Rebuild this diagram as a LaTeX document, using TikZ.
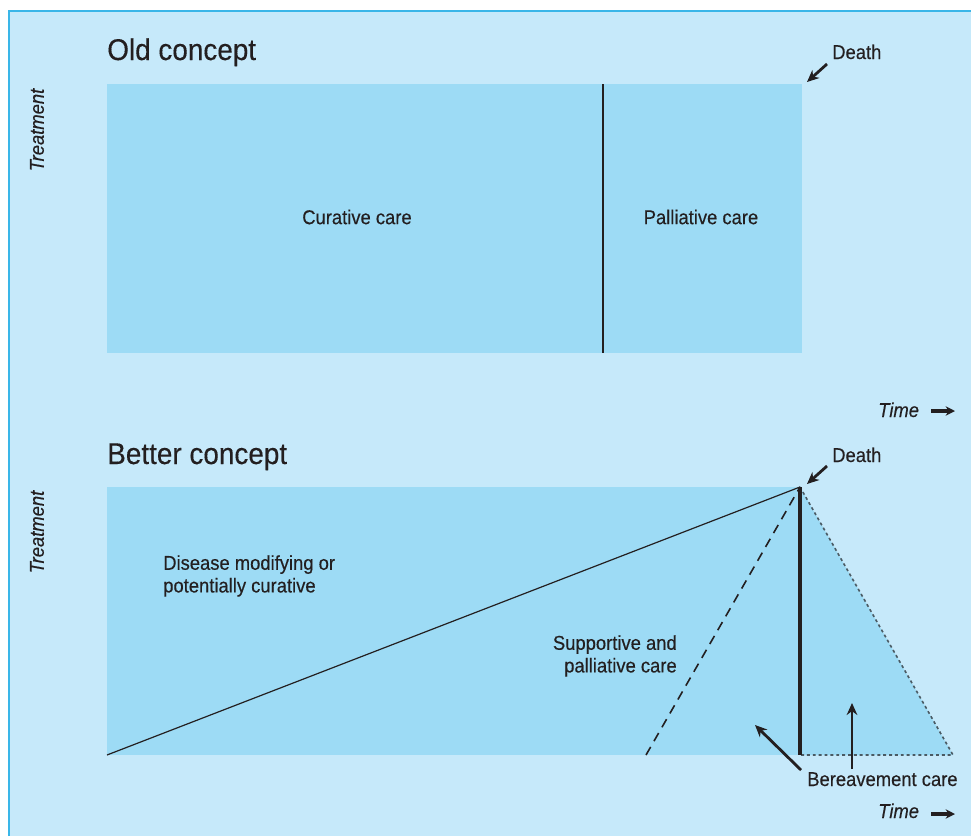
\documentclass[tikz,border=0pt]{standalone}
\usepackage{fontspec}
\setmainfont{Liberation Sans}
\newfontfamily\cond[FakeStretch=0.92,FakeBold=0.3]{Liberation Sans}
\newfontfamily\condt[FakeStretch=0.93,FakeBold=0.3]{Liberation Sans}
\usetikzlibrary{arrows.meta}
\definecolor{bgblue}{HTML}{C6E9FA}
\definecolor{boxblue}{HTML}{9DDBF5}
\definecolor{frameblue}{HTML}{3AB6E8}
\definecolor{ink}{HTML}{231F20}
\definecolor{dotgray}{HTML}{4A5A63}
\begin{document}
\begin{tikzpicture}[x=0.75pt,y=-0.75pt,
  lbl/.style={font=\cond\fontsize{15}{17}\selectfont, text=ink, inner sep=0pt},
  ttl/.style={font=\condt\fontsize{22.5}{24}\selectfont, text=ink, inner sep=0pt, anchor=base west},
  axl/.style={font=\cond\itshape\fontsize{15}{15}\selectfont, text=ink, inner sep=0pt},
  ptr/.style={draw=ink, line width=2.1pt, -{Stealth[length=9pt,width=8pt]}},
  timearrow/.style={draw=ink, line width=2.6pt, -{Stealth[length=7pt,width=7pt]}},
  boxfill/.style={fill=boxblue}
]
\useasboundingbox (0,0) rectangle (971,836);
\fill[white] (0,0) rectangle (971,836);
\fill[bgblue] (9,11) rectangle (971,836);
\draw[frameblue, line width=1.5pt] (9,836) -- (9,11) -- (971,11);

% ---------- Old concept ----------
\node[ttl] (oldt) at (107,60) {Old concept};
\fill[boxfill] (107,84) rectangle (802,353);
\coordinate (divtop) at (603,84);
\coordinate (divbot) at (603,353);
\draw[ink, line width=1.1pt] (divtop) -- (divbot);
\node[lbl] (cur) at (357,217) {Curative care};
\node[lbl] (pal) at (701,217) {Palliative care};
\node[lbl, anchor=base west] (d1) at (832,59) {Death};
\coordinate (d1tail) at (827,64);
\coordinate (d1head) at (807,82);
\draw[ptr] (d1tail) -- (d1head);
\node[axl, rotate=90] (tr1) at (37,130) {Treatment};
\node[axl, anchor=base west] (time1) at (878,417) {Time};
\coordinate (ta1) at (931,411);
\coordinate (tb1) at (955,411);
\draw[timearrow] (ta1) -- (tb1);

% ---------- Better concept ----------
\node[ttl] (bett) at (107,464) {Better concept};
\fill[boxfill] (107,487) rectangle (800,755);
\coordinate (apex) at (800,487);
\coordinate (vbot) at (800,755);
\coordinate (origin) at (107,755);
\coordinate (dashbot) at (646,755);
\coordinate (tri) at (953,755);
\fill[boxfill] (apex) -- (tri) -- (vbot) -- cycle;
\draw[ink, line width=0.9pt] (origin) -- (apex);
\draw[ink, line width=1.2pt, dash pattern=on 7pt off 5pt] (dashbot) -- (apex);
\draw[dotgray, line width=1.2pt, dash pattern=on 2.2pt off 2.2pt] (apex) -- (tri) -- (vbot);
\draw[ink, line width=2.8pt] (apex) -- (vbot);

\node[lbl, anchor=north west, align=left] (dis) at (163,555) {Disease modifying or\\potentially curative};
\node[lbl, anchor=north east, align=right] (sup) at (677,635) {Supportive and\\palliative care};

\node[lbl, anchor=base west] (d2) at (832,462) {Death};
\coordinate (d2tail) at (827,466);
\coordinate (d2head) at (807,484);
\draw[ptr] (d2tail) -- (d2head);

\node[lbl, anchor=base west] (ber) at (807,786) {Bereavement care};
\coordinate (b1tail) at (801,770);
\coordinate (b1head) at (755,725);
\coordinate (b2tail) at (852,769);
\coordinate (b2head) at (852,703);
\draw[ptr] (b1tail) -- (b1head);
\draw[ptr] (b2tail) -- (b2head);

\node[axl, rotate=90] (tr2) at (37,532) {Treatment};
\node[axl, anchor=base west] (time2) at (878,818) {Time};
\coordinate (ta2) at (931,814);
\coordinate (tb2) at (955,814);
\draw[timearrow] (ta2) -- (tb2);
\end{tikzpicture}
\end{document}
